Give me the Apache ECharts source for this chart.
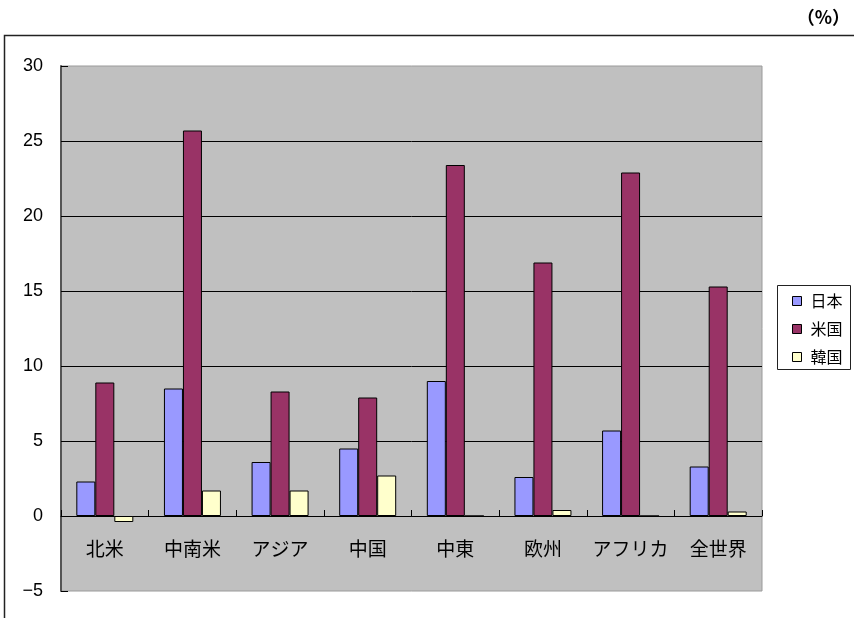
<!DOCTYPE html>
<html>
<head>
<meta charset="utf-8">
<script src="https://cdn.jsdelivr.net/npm/echarts@6/dist/echarts.min.js"></script>
<style>
  html, body { margin: 0; padding: 0; background: #fff; }
  #chart { width: 854px; height: 618px; }
</style>
</head>
<body>
<div id="chart"></div>
<script>
// Regions on the category axis
const categories = ['北米', '中南米', 'アジア', '中国', '中東', '欧州', 'アフリカ', '全世界'];

// Series values (%)
const seriesNames = ['日本', '米国', '韓国'];
const japan = [2.3, 8.5, 3.6, 4.5, 9.0, 2.6, 5.7, 3.3];
const usa   = [8.9, 25.7, 8.3, 7.9, 23.4, 16.9, 22.9, 15.3];
const korea = [-0.4, 1.7, 1.7, 2.7, 0, 0.4, 0, 0.3];

const seriesColors = ['#9999FF', '#993366', '#FFFFCC'];

// Value axis range
const yMin = -5, yMax = 30, yStep = 5;

const jpFont = '"Noto Sans CJK JP", "Noto Sans", sans-serif';
const numFont = '"Liberation Sans", Arial, sans-serif';

const chart = echarts.init(document.getElementById('chart'), null, { renderer: 'canvas' });

const barSeries = [japan, usa, korea].map((data, i) => ({
  name: seriesNames[i],
  type: 'bar',
  data: data,
  barWidth: 19,
  barGap: '0%',
  itemStyle: { color: seriesColors[i], borderColor: '#000', borderWidth: 1 },
  emphasis: { disabled: true },
  animation: false
}));

chart.setOption({
  animation: false,
  grid: {
    left: 61, right: 92, top: 66, bottom: 27,
    outerBoundsMode: 'none',
    containLabel: false,
    show: true,
    backgroundColor: '#C0C0C0',
    borderColor: '#9a9a9a',
    borderWidth: 1
  },
  legend: {
    orient: 'vertical',
    left: 792,
    top: 291,
    padding: 0,
    itemWidth: 9,
    itemHeight: 9,
    itemGap: 8,
    icon: 'rect',
    selectedMode: false,
    itemStyle: { borderColor: '#000', borderWidth: 1 },
    textStyle: {
      fontFamily: jpFont, fontSize: 16, color: '#000',
      lineHeight: 20, padding: [0, 0, 0, 4]
    },
    data: seriesNames
  },
  xAxis: {
    type: 'category',
    data: categories,
    axisLine: { onZero: true, lineStyle: { color: '#000', width: 1 } },
    axisTick: { show: true, inside: true, length: 6, lineStyle: { color: '#000' } },
    axisLabel: {
      interval: 0,
      hideOverlap: false,
      // labels sit just under the zero line, inside the plot
      margin: -52,
      fontFamily: jpFont,
      fontSize: 19,
      color: '#000'
    },
    splitLine: { show: false }
  },
  yAxis: {
    type: 'value',
    min: yMin, max: yMax, interval: yStep,
    axisLine: { show: true, lineStyle: { color: '#555', width: 2 } },
    axisTick: { show: true, inside: true, length: 7, lineStyle: { color: '#000' } },
    axisLabel: {
      margin: 18,
      fontFamily: numFont,
      fontSize: 18,
      color: '#000',
      formatter: v => (v < 0 ? '\u2212' + Math.abs(v) : String(v))
    },
    splitLine: {
      show: true,
      showMinLine: false,
      showMaxLine: false,
      lineStyle: { color: '#000', width: 1 }
    }
  },
  series: barSeries,
  graphic: [
    {
      type: 'polyline',
      silent: true,
      shape: { points: [[4.5, 700], [4.5, 35.5], [860, 35.5]] },
      style: { stroke: '#222', lineWidth: 1.5, fill: null }
    },
    {
      type: 'rect',
      silent: true,
      shape: { x: 777.5, y: 285.5, width: 73, height: 84 },
      style: { stroke: '#222', lineWidth: 1, fill: '#fff' },
      z: -1
    },
    {
      type: 'text',
      silent: true,
      right: 4,
      top: 8,
      style: {
        text: '（%）',
        font: 'bold 18px ' + jpFont,
        fill: '#000'
      }
    }
  ]
});
</script>
</body>
</html>
